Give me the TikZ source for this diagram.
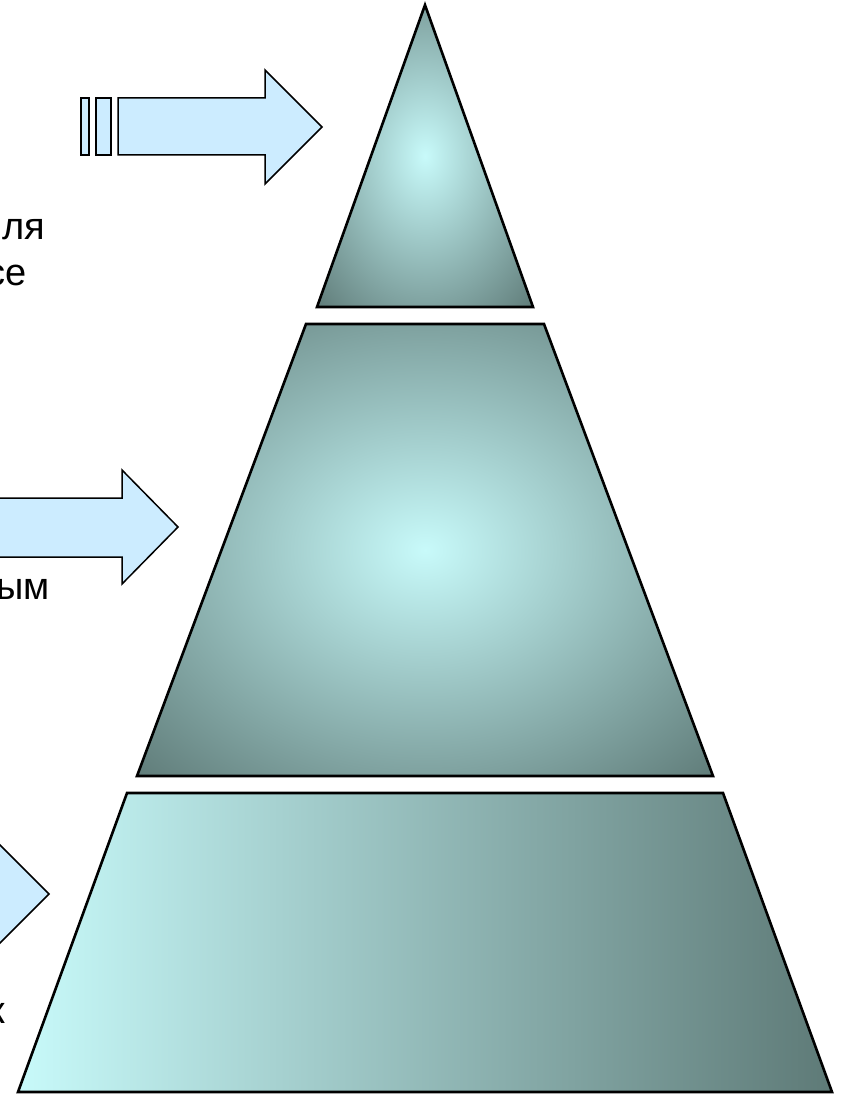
\documentclass[tikz,border=0pt]{standalone}
\usepackage{fontspec}
\setmainfont{Liberation Sans}
\definecolor{arrowblue}{HTML}{CCECFF}
\definecolor{tealight}{HTML}{C8FAFA}
\definecolor{tealdark}{HTML}{5E7A77}
\pgfdeclareradialshading{tealrad}{\pgfpoint{0bp}{0bp}}{color(0bp)=(tealight); color(36bp)=(tealdark); color(50bp)=(tealdark)}
\tikzset{
  layer/.style={draw=black, line width=2.6pt, line join=miter},
  radlayer/.style={layer, shading=tealrad},
  linlayer/.style={layer, left color=tealight, right color=tealdark},
  bluearrow/.style={draw=black, line width=1.5pt, fill=arrowblue, line join=miter},
  lbl/.style={font=\fontsize{38}{46}\selectfont, anchor=base east, inner sep=0pt, text=black}
}
\begin{document}
\begin{tikzpicture}[x=1pt,y=-1pt]
\useasboundingbox (0,0) rectangle (842,1094);
\begin{scope}
\clip (0,0) rectangle (842,1094);
% pyramid layers
\path[radlayer] (425,5) -- (533,307) -- (317,307) -- cycle;
\path[radlayer] (306,324) -- (544,324) -- (713,776) -- (137,776) -- cycle;
\path[linlayer] (127,793) -- (723,793) -- (832,1092) -- (18,1092) -- cycle;
% arrow 1 with stripes
\path[bluearrow] (81,98) rectangle (89,155);
\path[bluearrow] (96,98) rectangle (111,155);
\path[bluearrow] (118,98) -- (265,98) -- (265,70) -- (322,127) -- (265,184) -- (265,155) -- (118,155) -- cycle;
% arrow 2
\path[bluearrow] (-20,498) -- (122,498) -- (122,470) -- (178,527) -- (122,584) -- (122,557) -- (-20,557) -- cycle;
% arrow 3
\path[bluearrow] (-40,866) -- (-8,866) -- (-8,837) -- (49,894) -- (-8,951) -- (-8,922) -- (-40,922) -- cycle;
% clipped labels
\node[lbl] (t1) at (45,239) {ля};
\node[lbl] (t2) at (27,285) {се};
\node[lbl] (t3) at (50,599) {ым};
\node[lbl] (t4) at (5,1023) {к};
\end{scope}
\end{tikzpicture}
\end{document}
